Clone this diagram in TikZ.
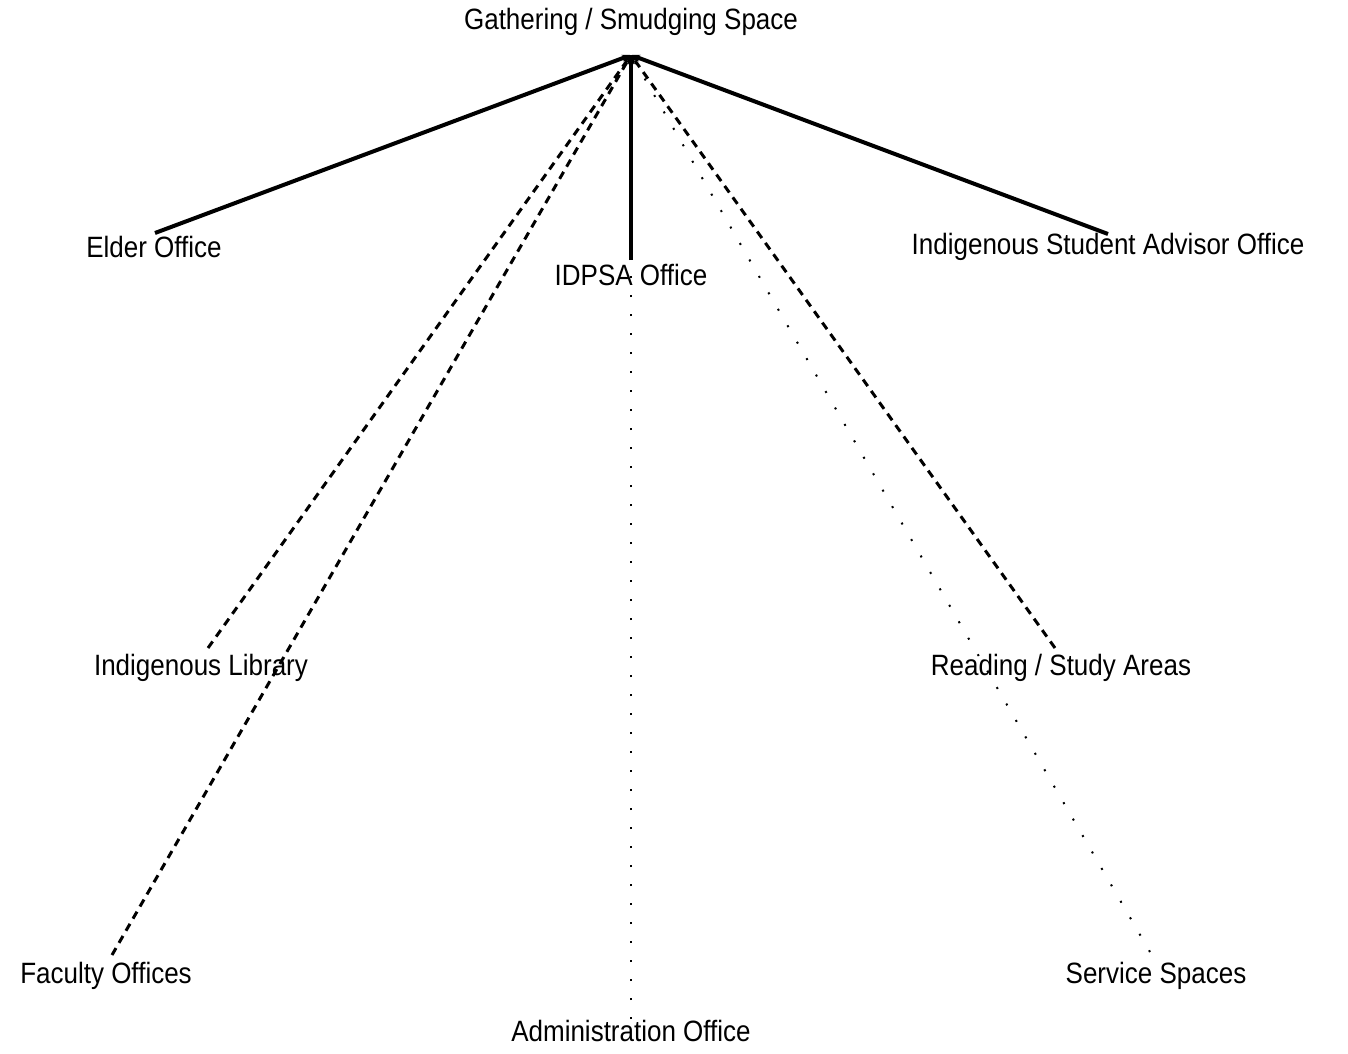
\documentclass[tikz,border=0pt]{standalone}
\usepackage{fontspec}
\setmainfont{Liberation Sans}
\usetikzlibrary{arrows.meta}
\newcommand{\tallt}[1]{\scalebox{1}[1.13]{#1}}
\begin{document}
\begin{tikzpicture}[x=1pt,y=-1pt,
  lbl/.style={font=\fontsize{26}{30}\selectfont, inner sep=0pt, anchor=center},
  conn/.style={-{Stealth[length=9pt,width=7pt]}},
  solidln/.style={conn, line width=4pt},
  dashln/.style={conn, line width=3pt, dash pattern=on 8pt off 6pt},
  dotln/.style={conn, line width=2pt, dash pattern=on 2pt off 17pt}]
\useasboundingbox (0,0) rectangle (1348,1053);
\fill[white] (0,0) rectangle (1348,1053);
% labels
\node[lbl] (top) at (631,22) {\tallt{Gathering / Smudging Space}};
\node[lbl] (elder) at (154,247) {\tallt{Elder Office}};
\node[lbl] (idpsa) at (631,275) {\tallt{IDPSA Office}};
\node[lbl] (isa) at (1108,247) {\tallt{Indigenous Student Advisor Office}};
\node[lbl] (lib) at (201,668) {\tallt{Indigenous Library}};
\node[lbl] (read) at (1061,668) {\tallt{Reading / Study Areas}};
\node[lbl] (fac) at (106,976) {\tallt{Faculty Offices}};
\node[lbl] (serv) at (1156,976) {\tallt{Service Spaces}};
\node[lbl] (admin) at (631,1031) {\tallt{Administration Office}};
% connector ends
\coordinate (hub) at (631,55);
\coordinate (eElder) at (155,233);
\coordinate (eIdpsa) at (631,260);
\coordinate (eIsa) at (1108,234);
\coordinate (eLib) at (208,648);
\coordinate (eRead) at (1055,648);
\coordinate (eFac) at (112,955);
\coordinate (eServ) at (1150,952);
\coordinate (eAdmin) at (631,1019);
% connectors
\draw[dotln] (eAdmin) -- (hub);
\draw[dotln] (eServ) -- (hub);
\draw[dashln] (eLib) -- (hub);
\draw[dashln] (eFac) -- (hub);
\draw[dashln] (eRead) -- (hub);
\draw[solidln] (eElder) -- (hub);
\draw[solidln] (eIdpsa) -- (hub);
\draw[solidln] (eIsa) -- (hub);
\end{tikzpicture}
\end{document}
